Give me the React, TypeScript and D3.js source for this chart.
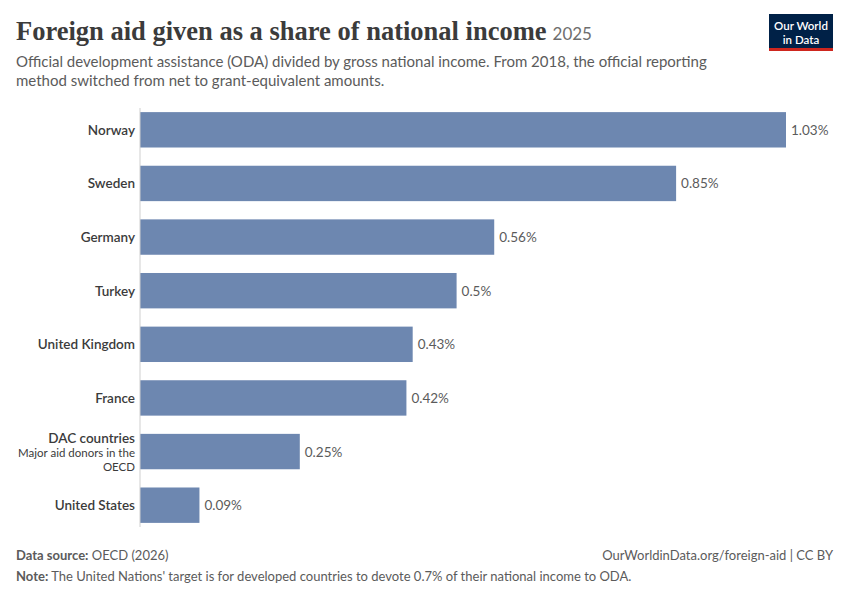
import * as d3 from 'd3'

const countries = ['Norway', 'Sweden', 'Germany', 'Turkey', 'United Kingdom', 'France', 'DAC countries', 'United States']
const values = [1.03, 0.85, 0.56, 0.5, 0.43, 0.42, 0.25, 0.09]
const valueLabels = ['1.03%', '0.85%', '0.56%', '0.5%', '0.43%', '0.42%', '0.25%', '0.09%']

const W = 850
const H = 600
const left = 140

export default function App() {
  const x = d3.scaleLinear().domain([0, 1.03]).range([left, 786])
  const y = d3.scaleBand().domain(countries).range([103, 532]).paddingInner(0.34).paddingOuter(0.17)
  const font = 'Lato, "Noto Sans", sans-serif'
  return (
    <svg width={W} height={H} style={{ position: 'absolute', left: 0, top: 0, fontFamily: font }}>
      <rect width={W} height={H} fill="#fff" />
      <text x={16} y={40} fontFamily='"Liberation Serif", "DejaVu Serif", serif' fontWeight={700} fontSize={26.5} fill="#3b3b3b">
        Foreign aid given as a share of national income
        <tspan fontFamily={font} fontWeight={400} fontSize={17} fill="#6e6e6e" dx={6}>2025</tspan>
      </text>
      <text fontSize={15} fill="#5b5b5b">
        <tspan x={16} y={67}>Official development assistance (ODA) divided by gross national income. From 2018, the official reporting</tspan>
        <tspan x={16} y={86}>method switched from net to grant-equivalent amounts.</tspan>
      </text>
      <rect x={769} y={14} width={64} height={36} fill="#002147" />
      <rect x={769} y={48} width={64} height={3} fill="#ce261e" />
      <text x={801} y={30} fontSize={11.5} fill="#fff" textAnchor="middle" fontWeight={600}>Our World</text>
      <text x={801} y={44} fontSize={11.5} fill="#fff" textAnchor="middle" fontWeight={600}>in Data</text>
      {countries.map((c, i) => {
        const yy = y(c)!
        const cy = yy + y.bandwidth() / 2
        const bw = Math.min(x(values[i]) - x(0) + 3, x(1.03) - x(0))
        return (
          <g key={c}>
            <rect x={x(0)} y={yy} width={bw} height={y.bandwidth()} fill="#6d87b0" />
            <text x={x(0) + bw + 5} y={cy + 5} fontSize={13.5} fill="#5b5b5b">{valueLabels[i]}</text>
            {c === 'DAC countries' ? (
              <g textAnchor="end">
                <text x={135} y={cy - 9} fontSize={13.5} fontWeight={600} fill="#3b3b3b">{c}</text>
                <text x={135} y={cy + 5} fontSize={11.5} fill="#3b3b3b">Major aid donors in the</text>
                <text x={135} y={cy + 19} fontSize={11.5} fill="#3b3b3b">OECD</text>
              </g>
            ) : (
              <text x={135} y={cy + 5} fontSize={13.5} fontWeight={600} fill="#3b3b3b" textAnchor="end">{c}</text>
            )}
          </g>
        )
      })}
      <line x1={left} x2={left} y1={108} y2={527} stroke="#cfcfcf" />
      <text x={16} y={560} fontSize={13} fill="#5b5b5b"><tspan fontWeight={700}>Data source:</tspan> OECD (2026)</text>
      <text x={833} y={560} fontSize={13} fill="#5b5b5b" textAnchor="end">OurWorldinData.org/foreign-aid | CC BY</text>
      <text x={16} y={581} fontSize={13} fill="#5b5b5b"><tspan fontWeight={700}>Note:</tspan> The United Nations' target is for developed countries to devote 0.7% of their national income to ODA.</text>
    </svg>
  )
}
